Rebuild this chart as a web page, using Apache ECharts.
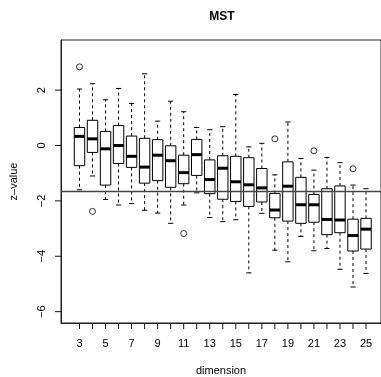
<!DOCTYPE html>
<html>
<head>
<meta charset="utf-8">
<script src="https://cdn.jsdelivr.net/npm/echarts@6/dist/echarts.min.js"></script>
<style>
  html, body { margin: 0; padding: 0; background: #fff; }
  #chart { width: 381px; height: 377px; }
</style>
</head>
<body>
<div id="chart"></div>
<script>
// boxplot stats per dimension
const dimensions = [3, 4, 5, 6, 7, 8, 9, 10, 11, 12, 13, 14, 15, 16, 17, 18, 19, 20, 21, 22, 23, 24, 25];
const whiskerLow = [-1.60, -1.10, -1.95, -2.15, -2.09, -2.34, -2.44, -2.81, -2.15, -1.71, -2.60, -2.75, -2.68, -4.60, -2.45, -3.78, -4.20, -3.28, -3.80, -3.72, -4.47, -5.11, -4.62];
const q1 = [-0.73, -0.25, -1.43, -0.65, -0.79, -1.36, -1.27, -1.51, -1.38, -1.08, -1.74, -1.94, -2.02, -2.20, -2.04, -2.61, -2.73, -2.81, -2.77, -3.22, -3.15, -3.81, -3.74];
const medians = [0.33, 0.24, -0.12, 0.00, -0.39, -0.78, -0.35, -0.55, -0.98, -0.33, -1.23, -0.82, -1.31, -1.42, -1.53, -2.33, -1.47, -2.14, -2.14, -2.67, -2.69, -3.25, -3.02];
const q3 = [0.65, 0.91, 0.51, 0.72, 0.34, 0.26, 0.21, -0.01, -0.35, 0.22, -0.52, -0.37, -0.39, -0.44, -0.83, -1.73, -0.59, -1.15, -1.77, -1.56, -1.46, -2.66, -2.63];
const whiskerHigh = [2.04, 2.23, 1.65, 2.06, 1.52, 2.59, 0.88, 1.60, 1.22, 0.65, 0.57, 0.68, 1.84, -0.05, 0.08, -1.06, 0.85, -0.47, -0.89, -0.43, -0.62, -1.43, -1.56];
const outliers = [[3, 2.84], [4, -2.38], [11, -3.18], [18, 0.24], [21, -0.19], [24, -0.84]];
const refLine = -1.645;
const xTicks = dimensions;
const xLabels = [3, 5, 7, 9, 11, 13, 15, 17, 19, 21, 23, 25];
const yTicks = [-6, -4, -2, 0, 2];

const X_MIN = 1.58, X_MAX = 26.15;
const Y_MIN = -6.41, Y_MAX = 3.81;

const boxData = dimensions.map((d, i) => [d, whiskerLow[i], q1[i], medians[i], q3[i], whiskerHigh[i]]);

const chart = echarts.init(document.getElementById("chart"));
const font = "Liberation Sans, Arial, sans-serif";

chart.setOption({
  animation: false,
  title: {
    text: "MST",
    left: 217,
    textAlign: "center",
    top: 6,
    textStyle: { fontFamily: font, fontSize: 12, fontWeight: "bold", color: "#000" },
  },
  grid: {
    left: 61, right: 0, top: 40, bottom: 54,
    outerBoundsMode: "none",
    show: true, borderColor: "#222", borderWidth: 1, backgroundColor: "transparent",
  },
  xAxis: {
    type: "value",
    min: X_MIN, max: X_MAX,
    name: "dimension",
    nameLocation: "middle",
    nameGap: 42,
    nameTextStyle: { fontFamily: font, fontSize: 11, color: "#000" },
    axisLine: { show: true, onZero: false, lineStyle: { color: "#222" } },
    splitLine: { show: false },
    axisTick: { show: false },
    axisLabel: { fontFamily: font, fontSize: 11, color: "#000", margin: 15, customValues: xLabels },
  },
  yAxis: {
    type: "value",
    min: Y_MIN, max: Y_MAX,
    name: "z\u2013value",
    nameLocation: "middle",
    nameRotate: 90,
    nameGap: 42,
    nameTextStyle: { fontFamily: font, fontSize: 11, color: "#000" },
    axisLine: { show: true, onZero: false, lineStyle: { color: "#222" } },
    splitLine: { show: false },
    axisTick: { show: false },
    axisLabel: {
      fontFamily: font, fontSize: 11, color: "#000", rotate: 90, margin: 14,
      customValues: yTicks,
      formatter: (v) => String(v).replace("-", "\u2212"),
    },
  },
  series: [
    {
      type: "custom",
      data: boxData,
      renderItem: (params, api) => {
        const x = api.value(0);
        const lo = api.coord([x, api.value(1)]);
        const b1 = api.coord([x, api.value(2)]);
        const md = api.coord([x, api.value(3)]);
        const b3 = api.coord([x, api.value(4)]);
        const hi = api.coord([x, api.value(5)]);
        const w = api.size([0.8, 0])[0];
        const sw = api.size([0.4, 0])[0];
        const cx = lo[0];
        const dash = { stroke: "#000", lineWidth: 1, lineDash: [3, 3] };
        const solid = { stroke: "#000", lineWidth: 1 };
        return {
          type: "group",
          children: [
            { type: "line", shape: { x1: cx, y1: b3[1], x2: cx, y2: hi[1] }, style: dash },
            { type: "line", shape: { x1: cx, y1: b1[1], x2: cx, y2: lo[1] }, style: dash },
            { type: "line", shape: { x1: cx - sw / 2, y1: hi[1], x2: cx + sw / 2, y2: hi[1] }, style: solid },
            { type: "line", shape: { x1: cx - sw / 2, y1: lo[1], x2: cx + sw / 2, y2: lo[1] }, style: solid },
            { type: "rect", shape: { x: cx - w / 2, y: b3[1], width: w, height: b1[1] - b3[1] },
              style: { fill: "#fff", stroke: "#000", lineWidth: 1 } },
            { type: "line", shape: { x1: cx - w / 2, y1: md[1], x2: cx + w / 2, y2: md[1] },
              style: { stroke: "#000", lineWidth: 3 } },
          ],
        };
      },
      markLine: {
        silent: true,
        symbol: "none",
        label: { show: false },
        lineStyle: { color: "#444", width: 1.3, type: "solid" },
        data: [{ yAxis: refLine }],
      },
      z: 2,
    },
    {
      type: "scatter",
      data: outliers,
      symbol: "circle",
      symbolSize: 6,
      itemStyle: { color: "#fff", borderColor: "#000", borderWidth: 1 },
      z: 3,
    },
  ],
});

// tick marks outside the frame, placed through the chart's own scales
const tickStyle = { stroke: "#111", lineWidth: 1 };
const tickLines = [];
xTicks.forEach((v) => {
  const p = chart.convertToPixel({ gridIndex: 0 }, [v, Y_MIN]);
  if (p) tickLines.push({ type: "line", silent: true, shape: { x1: p[0], y1: p[1], x2: p[0], y2: p[1] + 6 }, style: tickStyle });
});
yTicks.forEach((v) => {
  const p = chart.convertToPixel({ gridIndex: 0 }, [X_MIN, v]);
  if (p) tickLines.push({ type: "line", silent: true, shape: { x1: p[0], y1: p[1], x2: p[0] - 6, y2: p[1] }, style: tickStyle });
});
chart.setOption({ graphic: { elements: tickLines } });
</script>
</body>
</html>
